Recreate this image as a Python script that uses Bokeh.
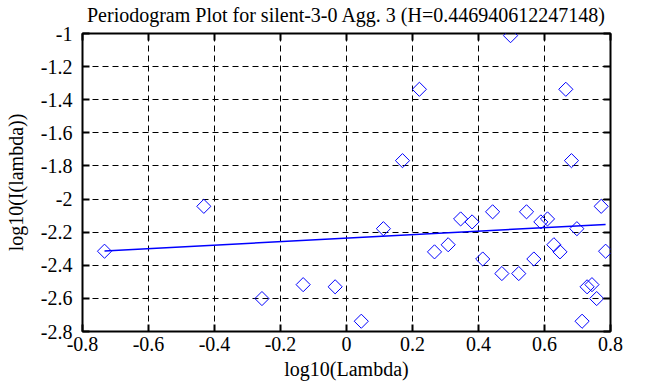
from math import pi
from bokeh.plotting import figure
from bokeh.models import LinearAxis, FixedTicker, CustomJSTickFormatter
from bokeh.embed import file_html
from bokeh.resources import INLINE

# log10(Lambda) and log10(I(lambda))
lam_x = [-0.7333, -0.4323, -0.2562, -0.1313, -0.0344, 0.0448, 0.1118, 0.1697,
         0.2209, 0.2667, 0.3081, 0.3459, 0.3806, 0.4128, 0.4428, 0.4708,
         0.4971, 0.5220, 0.5455, 0.5677, 0.5889, 0.6091, 0.6284, 0.6469,
         0.6646, 0.6817, 0.6981, 0.7139, 0.7291, 0.7438, 0.7581, 0.7718, 0.7852]
lam_y = [-2.315, -2.044, -2.601, -2.517, -2.530, -2.738, -2.179, -1.768,
         -1.337, -2.319, -2.276, -2.120, -2.138, -2.362, -2.077, -2.450,
         -1.013, -2.450, -2.077, -2.362, -2.138, -2.120, -2.276, -2.319,
         -1.337, -1.768, -2.179, -2.738, -2.530, -2.517, -2.601, -2.044, -2.315]

# least-squares fit line end points
fit_x = [-0.7333, 0.7852]
fit_y = [-2.314, -2.153]

x_ticks = [-0.8, -0.6, -0.4, -0.2, 0.0, 0.2, 0.4, 0.6, 0.8]
y_ticks = [-2.8, -2.6, -2.4, -2.2, -2.0, -1.8, -1.6, -1.4, -1.2, -1.0]

title = "Periodogram Plot for silent-3-0 Agg. 3 (H=0.446940612247148)"
FONT = "Liberation Serif"

p = figure(width=648, height=384, output_backend="svg", toolbar_location=None,
           x_range=(-0.8, 0.8), y_range=(-2.8, -1.0),
           x_axis_location=None, y_axis_location=None,
           min_border_left=82, min_border_right=38, min_border_top=31,
           min_border_bottom=53)

p.background_fill_color = "white"
p.border_fill_color = "white"
p.outline_line_color = "black"
p.outline_line_width = 2

fmt = CustomJSTickFormatter(code="return (Math.round(tick*10)/10).toString();")
blank = CustomJSTickFormatter(code="return '';")

bottom_ax = LinearAxis(ticker=FixedTicker(ticks=x_ticks), formatter=fmt,
                       axis_label="log10(Lambda)")
left_ax = LinearAxis(ticker=FixedTicker(ticks=y_ticks), formatter=fmt,
                     axis_label="log10(I(lambda))")
# the chart title is carried by the top axis so that it sits close to the frame
top_ax = LinearAxis(ticker=FixedTicker(ticks=x_ticks), formatter=blank,
                    axis_label=title)
right_ax = LinearAxis(ticker=FixedTicker(ticks=y_ticks), formatter=blank)
p.add_layout(bottom_ax, "below")
p.add_layout(left_ax, "left")
p.add_layout(top_ax, "above")
p.add_layout(right_ax, "right")

for ax in [bottom_ax, left_ax, top_ax, right_ax]:
    ax.axis_line_color = None
    ax.major_tick_in = 7
    ax.major_tick_out = 0
    ax.major_tick_line_width = 2
    ax.major_tick_line_color = "black"
    ax.minor_tick_line_color = None
    ax.major_label_text_font = FONT
    ax.major_label_text_font_size = "20px"
    ax.major_label_text_color = "black"
    ax.axis_label_text_font = FONT
    ax.axis_label_text_font_size = "20px"
    ax.axis_label_text_font_style = "normal"
    ax.axis_label_text_color = "black"

right_ax.major_label_standoff = 0
top_ax.major_label_standoff = 0
top_ax.axis_label_standoff = 8

bottom_ax.major_label_standoff = 5
bottom_ax.axis_label_standoff = 4
left_ax.major_label_standoff = 10
left_ax.axis_label_standoff = 11

p.xgrid.ticker = FixedTicker(ticks=x_ticks)
p.ygrid.ticker = FixedTicker(ticks=y_ticks)
for g in [p.xgrid[0], p.ygrid[0]]:
    g.grid_line_color = "black"
    g.grid_line_dash = "6 4"
    g.grid_line_width = 1

p.line(fit_x, fit_y, line_color="#0000FF", line_width=1.5)
p.scatter(lam_x, lam_y, marker="square", angle=pi / 4, size=10,
          fill_color=None, line_color="#0000FF", line_width=1)

open("out.html", "w").write(file_html(p, INLINE))
